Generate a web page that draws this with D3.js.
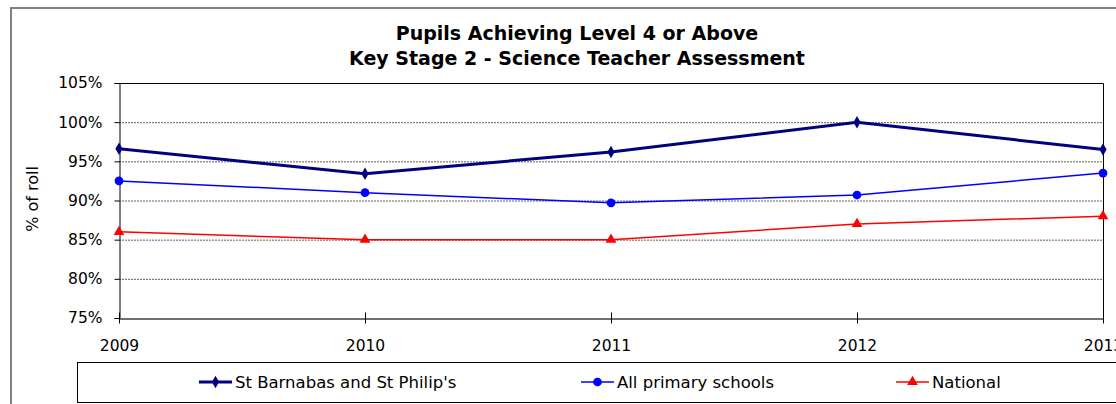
<!DOCTYPE html>
<html>
<head>
<meta charset="utf-8">
<script src="https://cdn.jsdelivr.net/npm/d3@7"></script>
<style>
  body { margin: 0; background: #fff; }
  svg { font-family: "DejaVu Sans", Verdana, sans-serif; }
  .grid line { stroke: #606060; stroke-dasharray: 2,1; }
</style>
</head>
<body>
<script>
// chart data
var years = ["2009", "2010", "2011", "2012", "2013"];
var stBarnabas = [96.6, 93.4, 96.2, 100, 96.5];
var allPrimary = [92.5, 91.0, 89.7, 90.7, 93.5];
var national = [86, 85, 85, 87, 88];
var yTicks = [75, 80, 85, 90, 95, 100, 105];

var width = 1116,
    height = 404;

var svg = d3.select("body")
    .append("svg")
    .attr("width", width)
    .attr("height", height);

// outer chart frame
svg.append("rect")
    .attr("x", 11).attr("y", 8)
    .attr("width", 1130).attr("height", 420)
    .attr("fill", "none")
    .attr("stroke", "#808080")
    .attr("stroke-width", 2);

// titles
svg.append("text")
    .attr("x", 577).attr("y", 40)
    .attr("text-anchor", "middle")
    .attr("font-size", 19).attr("font-weight", "bold")
    .text("Pupils Achieving Level 4 or Above");
svg.append("text")
    .attr("x", 577).attr("y", 65)
    .attr("text-anchor", "middle")
    .attr("font-size", 19).attr("font-weight", "bold")
    .text("Key Stage 2 - Science Teacher Assessment");

var plot = { left: 119, right: 1103, top: 83, bottom: 318 };

var x = d3.scalePoint()
    .domain(years)
    .range([plot.left, plot.right]);

var y = d3.scaleLinear()
    .domain([75, 105])
    .range([plot.bottom, plot.top]);

// gridlines
svg.append("g")
    .attr("class", "grid")
    .selectAll("line")
    .data(yTicks.slice(1))
    .enter()
    .append("line")
    .attr("x1", plot.left).attr("x2", plot.right)
    .attr("y1", function(d){ return y(d) + 0.5; })
    .attr("y2", function(d){ return y(d) + 0.5; });

// plot top + right border
svg.append("path")
    .attr("d", "M" + plot.left + "," + (plot.top + 0.5) + "H" + (plot.right + 0.5) + "V" + plot.bottom)
    .attr("fill", "none")
    .attr("stroke", "#000");

// y axis
var yAxis = svg.append("g")
    .attr("transform", "translate(" + (plot.left + 0.5) + ",0)")
    .call(d3.axisLeft(y)
        .tickValues(yTicks)
        .tickSize(5)
        .tickFormat(function(d){ return d + "%"; }));
yAxis.select(".domain").attr("stroke", "#000");
yAxis.selectAll(".tick line").attr("stroke", "#000");
yAxis.selectAll("text")
    .attr("font-size", 15.5)
    .attr("font-family", "DejaVu Sans, Verdana, sans-serif")
    .attr("fill", "#000")
    .attr("x", -17);

// x axis
var xAxis = svg.append("g")
    .attr("transform", "translate(0," + (plot.bottom + 0.5) + ")")
    .call(d3.axisBottom(x).tickSize(5).tickSizeOuter(0));
xAxis.select(".domain").attr("stroke", "#404040").attr("stroke-width", 1.5);
xAxis.selectAll(".tick line").attr("y1", -6).attr("y2", 5).attr("stroke", "#000");
xAxis.selectAll("text")
    .attr("font-size", 15.5)
    .attr("font-family", "DejaVu Sans, Verdana, sans-serif")
    .attr("fill", "#000")
    .attr("y", 32)
    .attr("dy", null);

// y label
svg.append("text")
    .attr("transform", "translate(38,199) rotate(-90)")
    .attr("text-anchor", "middle")
    .attr("font-size", 16)
    .text("% of roll");

var series = [
    { name: "St Barnabas and St Philip's", values: stBarnabas, color: "#000080", width: 3, symbol: d3.symbolDiamond, size: 45 },
    { name: "All primary schools", values: allPrimary, color: "#0000FF", width: 1.5, symbol: d3.symbolCircle, size: 60 },
    { name: "National", values: national, color: "#FF0000", width: 1.5, symbol: d3.symbolTriangle, size: 50 }
];

var line = d3.line()
    .x(function(d, i){ return x(years[i]); })
    .y(function(d){ return y(d); });

series.forEach(function(s){
    svg.append("path")
        .datum(s.values)
        .attr("fill", "none")
        .attr("stroke", s.color)
        .attr("stroke-width", s.width)
        .attr("d", line);

    svg.selectAll(null)
        .data(s.values)
        .enter()
        .append("path")
        .attr("d", d3.symbol().type(s.symbol).size(s.size))
        .attr("transform", function(d, i){ return "translate(" + x(years[i]) + "," + y(d) + ")"; })
        .attr("fill", s.color);
});

// legend
svg.append("rect")
    .attr("x", 77.5).attr("y", 362.5)
    .attr("width", 1100).attr("height", 40)
    .attr("fill", "none")
    .attr("stroke", "#000");

var legendX = [199, 581, 896];
series.forEach(function(s, i){
    var g = svg.append("g").attr("transform", "translate(" + legendX[i] + ",382)");
    g.append("line")
        .attr("x1", 0).attr("x2", 33)
        .attr("stroke", s.color)
        .attr("stroke-width", s.width);
    g.append("path")
        .attr("d", d3.symbol().type(s.symbol).size(s.size))
        .attr("transform", "translate(16.5,0)")
        .attr("fill", s.color);
    g.append("text")
        .attr("x", 36).attr("y", 6)
        .attr("font-size", 16.5)
        .text(s.name);
});
</script>
</body>
</html>
